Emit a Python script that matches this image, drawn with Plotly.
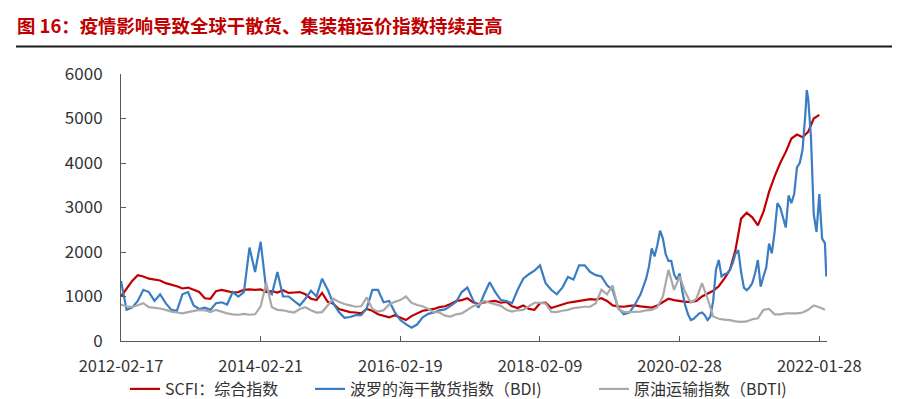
import plotly.graph_objects as go

# ---------------- data (weekly observation index -> value) ----------------
tick_labels = ["2012-02-17", "2014-02-21", "2016-02-19", "2018-02-09", "2020-02-28", "2022-01-28"]
tick_weeks = [0, 100, 200, 300, 400, 500]

weeks = list(range(0, 505, 4))  # sampled every 4th weekly observation

scfi = [1000, 1180, 1350, 1480, 1450, 1400, 1380, 1360, 1300, 1270, 1230, 1180, 1200, 1150, 1100, 960,
        950, 1120, 1150, 1120, 1090, 1100, 1150, 1160, 1150, 1160, 1100, 1120, 1090, 1140, 1080, 1090, 1100,
        1050, 950, 920, 1080, 880, 840, 720, 680, 650, 640, 620, 720, 680, 600, 560, 530, 580, 520, 470,
        560, 620, 680, 700, 720, 760, 780, 830, 900, 920, 960, 870, 830, 870,
        880, 900, 860, 880, 780, 740, 800, 720, 700, 850, 860, 740, 780, 820, 860, 880, 900, 920, 940, 930,
        960, 900, 800, 780, 770, 790, 800, 780, 760, 750, 800, 880, 950,
        920, 900, 880, 880, 900, 1000, 1060, 1130, 1230, 1400, 1600, 2050, 2750, 2880, 2780, 2600, 2900,
        3350, 3700, 4000, 4250, 4550, 4640, 4580, 4700, 5000, 5080]

bdti = [820, 780, 760, 800, 850, 760, 750, 730, 700, 660, 640, 620, 650, 680, 700, 690, 650, 700, 660,
        620, 600, 590, 610, 590, 600, 780, 1300, 760, 700, 690, 660, 640, 720,
        760, 690, 640, 650, 800, 950, 880, 830, 800, 770, 780, 980, 720, 660, 690, 820, 880, 920, 1000,
        860, 810, 780, 720, 650, 640, 570, 550, 600, 620, 700, 780, 820, 900,
        860, 820, 790, 700, 660, 690, 700, 780, 860, 860, 840, 660, 650, 680, 700, 740, 760, 770, 770, 850,
        1150, 1050, 1250, 720, 650, 650, 660, 660, 690, 700, 760, 1000, 1600,
        1150, 1450, 1100, 860, 950, 1300, 950, 550, 500, 480, 470, 440, 430, 440, 490, 510, 700, 720, 600,
        600, 620, 620, 620, 640, 700, 800, 760, 700]

bdi_weeks = (list(range(0, 376, 4)) + list(range(376, 491, 2)) + [491] + list(range(492, 505, 2)) + [505])
bdi = [1350, 700, 750, 900, 1150, 1100, 900, 1050, 850, 700, 680, 1050, 1100, 800, 720, 750, 700, 850,
       870, 820, 1100, 1000, 1100, 2100, 1550, 2230, 1150, 1050, 1550, 1000, 1000, 900, 800,
       950, 1130, 1000, 1400, 1150, 850, 650, 520, 540, 580, 580, 740, 1150, 1150, 870, 900, 650, 470,
       380, 300, 370, 530, 610, 640, 690, 710, 790, 880, 1100, 1200, 920, 750, 1050,
       1320, 1100, 920, 900, 850, 1150, 1400, 1500, 1580, 1700, 1300, 1150, 1050, 1200, 1440, 1380, 1700,
       1700, 1550, 1480, 1450, 1250, 1150, 740, 600, 640, 820, 1050,
       # every 2nd week from here
       1400, 1670, 2080, 1900, 2150, 2480, 2300, 1950, 1800, 1800, 1500, 1380, 1520, 1100, 800, 600,
       470, 500, 560, 620, 640, 580, 470, 550, 900, 1600, 1820, 1450, 1500, 1520, 1600, 1750, 1960,
       2040, 1550, 1200, 1140, 1200, 1300, 1520, 1820, 1220, 1450, 1650, 2190, 1970, 2450, 3100, 3000,
       2800, 2550, 3270, 3100, 3300, 3900, 4000, 4300, 5100,
       5640,
       5450, 4600, 2850, 2450, 3300, 2300, 2200,
       1450]

series_names = ["SCFI：综合指数", "波罗的海干散货指数（BDI)", "原油运输指数（BDTI)"]
series_colors = ["#C00000", "#3A7DC2", "#A9A9A9"]

title_text = "<b>图 16：疫情影响导致全球干散货、集装箱运价指数持续走高</b>"

# ---------------- figure ----------------
W, H = 900, 399
L, R, T, B = 121, 73, 74, 58
FONT = "Noto Sans CJK SC, Noto Sans, sans-serif"
pw = W - L - R
ph = H - T - B

fig = go.Figure()
fig.add_trace(go.Scatter(x=weeks[:len(scfi)], y=scfi, mode="lines", name=series_names[0],
                         line=dict(color=series_colors[0], width=2.2), legend="legend"))
fig.add_trace(go.Scatter(x=bdi_weeks[:len(bdi)], y=bdi, mode="lines", name=series_names[1],
                         line=dict(color=series_colors[1], width=2.2), legend="legend2"))
fig.add_trace(go.Scatter(x=weeks[:len(bdti)], y=bdti, mode="lines", name=series_names[2],
                         line=dict(color=series_colors[2], width=2.2), legend="legend3"))


def leg(px_left):
    return dict(orientation="h", x=(px_left - L) / pw, xanchor="left",
                y=-(389 - (T + ph)) / ph, yanchor="middle",
                font=dict(family=FONT, size=16, color="#333333"), itemwidth=30,
                bgcolor="rgba(0,0,0,0)")


fig.update_layout(
    width=W, height=H,
    margin=dict(l=L, r=R, t=T, b=B, autoexpand=False),
    paper_bgcolor="white", plot_bgcolor="white",
    font=dict(family=FONT, size=17, color="#333333"),
    showlegend=True,
    legend=leg(125), legend2=leg(310), legend3=leg(594),
    title=dict(text=title_text, x=17 / W, xanchor="left", xref="container",
               y=1 - 27 / H, yanchor="middle", yref="container",
               font=dict(family=FONT, size=18.4, color="#C00000")),
    xaxis=dict(range=[0, 505.5], tickmode="array", tickvals=tick_weeks, ticktext=tick_labels,
               ticks="inside", ticklen=5, tickcolor="#595959", showline=True, linecolor="#595959",
               linewidth=1, showgrid=False, zeroline=False, ticklabelstandoff=10,
               tickfont=dict(size=16.5, color="#333333")),
    yaxis=dict(range=[0, 6000], tickmode="linear", tick0=0, dtick=1000,
               ticks="inside", ticklen=5, tickcolor="#595959", showline=True, linecolor="#595959",
               linewidth=1, showgrid=False, zeroline=False, ticklabelstandoff=14,
               tickfont=dict(size=17, color="#333333")),
)

# rule under the title
fig.add_shape(type="line", xref="paper", yref="paper",
              x0=(16 - L) / pw, x1=(892 - L) / pw,
              y0=(T + ph - 46.5) / ph, y1=(T + ph - 46.5) / ph,
              line=dict(color="#1a1a1a", width=2))

fig.write_html("out.html", config={"displayModeBar": False},
               post_script="document.body.style.margin='0';document.body.style.padding='0';")
